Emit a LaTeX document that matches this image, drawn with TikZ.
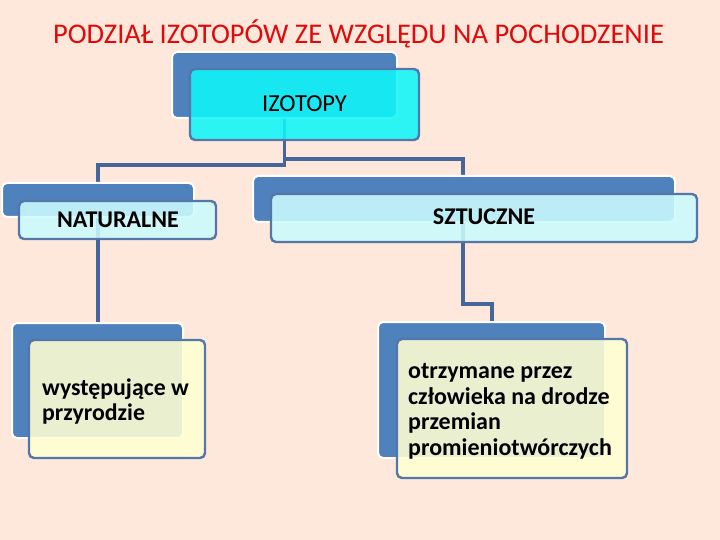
\documentclass[tikz,border=0pt]{standalone}
\usepackage{fontspec}
\setmainfont{Carlito}
\definecolor{bg}{HTML}{FDE8DB}
\definecolor{backblue}{HTML}{4F81BD}
\definecolor{edgeblue}{HTML}{5476A8}
\definecolor{linkblue}{HTML}{46659A}
\definecolor{cyanfill}{HTML}{10F6F8}
\definecolor{lcyan}{HTML}{CCFBFD}
\definecolor{lyellow}{HTML}{FFFFD2}
\definecolor{titlered}{HTML}{E00A0A}
\tikzset{
  backbox/.style={fill=backblue, draw=white, line width=2pt, rounded corners=5pt},
  frontbox/.style={draw=edgeblue, line width=2.4pt, rounded corners=5pt, fill opacity=0.88, text opacity=1},
  link/.style={draw=linkblue, line width=3.3pt},
}
\begin{document}
\begin{tikzpicture}[x=1pt,y=-1pt]
\useasboundingbox (0,0) rectangle (720,540);
\fill[bg] (0,0) rectangle (720,540);
% title
\node[text=titlered, font=\fontsize{28.5}{32}\selectfont, anchor=base] (title) at (358.5,44) {PODZIAŁ IZOTOPÓW ZE WZGLĘDU NA POCHODZENIE};
% back boxes (coordinates)
\coordinate (izbNW) at (172,52); \coordinate (izbSE) at (397,118);
\coordinate (natbNW) at (2,183); \coordinate (natbSE) at (194,217);
\coordinate (sztbNW) at (253,176); \coordinate (sztbSE) at (675,222);
\coordinate (wbNW) at (12,323); \coordinate (wbSE) at (183,438);
\coordinate (obNW) at (378,322); \coordinate (obSE) at (605,458);
% connector waypoints
\coordinate (izbot) at (284.5,118);
\coordinate (natop) at (98,183);
\coordinate (sztop) at (463,176);
\coordinate (natbot) at (98,217);
\coordinate (wtop) at (98,323);
\coordinate (sztbot) at (463,222);
\coordinate (otop) at (492,322);
% connectors
\draw[link] (izbot) -- (284.5,165) -| (natop);
\draw[link] (284.5,159) -| (sztop);
\draw[link] (natbot) -- (wtop);
\draw[link] (sztbot) -- (463,304) -| (otop);
% back boxes
\draw[backbox] (izbNW) rectangle (izbSE);
\draw[backbox] (natbNW) rectangle (natbSE);
\draw[backbox] (sztbNW) rectangle (sztbSE);
\draw[backbox] (wbNW) rectangle (wbSE);
\draw[backbox] (obNW) rectangle (obSE);
% front boxes
\draw[frontbox, fill=cyanfill] (190,69) rectangle (419,140);
\node[font=\fontsize{24.5}{28}\selectfont, anchor=base] (izotopy) at (304.5,112) {IZOTOPY};
\draw[frontbox, fill=lcyan] (19,201) rectangle (216,239);
\node[font=\bfseries\fontsize{24}{28}\selectfont, anchor=base] (naturalne) at (118,227) {NATURALNE};
\draw[frontbox, fill=lcyan] (271,194) rectangle (697,242);
\node[font=\bfseries\fontsize{24}{28}\selectfont, anchor=base] (sztuczne) at (484,225) {SZTUCZNE};
\draw[frontbox, fill=lyellow] (29,340) rectangle (205,458);
\node[font=\bfseries\fontsize{23.8}{25}\selectfont, anchor=base west, align=left, inner sep=0pt] (wyst) at (42,420) {występujące w\\przyrodzie};
\draw[frontbox, fill=lyellow] (397,339) rectangle (627,478);
\node[font=\bfseries\fontsize{24}{25.5}\selectfont, anchor=base west, align=left, inner sep=0pt] (otrz) at (408,455) {otrzymane przez\\człowieka na drodze\\przemian\\promieniotwórczych};
\end{tikzpicture}
\end{document}
